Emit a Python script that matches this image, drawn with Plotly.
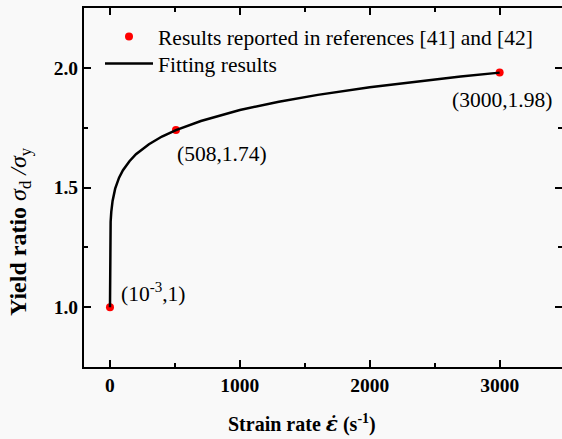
import plotly.graph_objects as go

# Reported yield ratios (strain rate in 1/s)
rate_points = [0.001, 508, 3000]
ratio_points = [1.0, 1.74, 1.98]
point_labels = ["(10<sup>-3</sup>,1)", "(508,1.74)", "(3000,1.98)"]

# Fitted curve sampled along strain rate
fit_rate = [0, 0.01, 0.1, 0.5, 2, 5, 10, 20, 40, 70, 100, 150, 200, 300, 400,
            508, 700, 1000, 1300, 1600, 2000, 2400, 2700, 3000]
fit_ratio = [1.0, 1.134, 1.192, 1.248, 1.309, 1.357, 1.398, 1.444, 1.495, 1.541,
             1.572, 1.610, 1.639, 1.681, 1.713, 1.74, 1.778, 1.824, 1.858, 1.887,
             1.919, 1.946, 1.964, 1.98]

x_range = [-200, 3480]
y_range = [0.75, 2.25]

FONT = "Liberation Serif, Times New Roman, serif"
BG = "#f9f9f9"

fig = go.Figure()
fig.add_trace(go.Scatter(
    x=rate_points, y=ratio_points, mode="markers",
    marker=dict(color="#ff0000", size=8),
    name="Results reported in references [41] and [42]",
    legend="legend",
))
fig.add_trace(go.Scatter(
    x=fit_rate, y=fit_ratio, mode="lines",
    line=dict(color="black", width=2.5),
    name="Fitting results",
    legend="legend2",
))
# invisible trace to carry the right-hand tick marks
fig.add_trace(go.Scatter(x=[None], y=[None], yaxis="y2", showlegend=False, hoverinfo="skip"))

# value labels next to the reported points
label_pos = [
    dict(x=rate_points[0], y=ratio_points[0], xanchor="left", yanchor="middle", xshift=9, yshift=15),
    dict(x=rate_points[1], y=ratio_points[1], xanchor="left", yanchor="middle", xshift=-1, yshift=-24),
    dict(x=rate_points[2], y=ratio_points[2], xanchor="center", yanchor="middle", xshift=2, yshift=-27),
]
for txt, pos in zip(point_labels, label_pos):
    fig.add_annotation(text=txt, showarrow=False, font=dict(family=FONT, size=21.5, color="black"), **pos)

# axis titles
fig.add_annotation(
    text="<b>Strain rate </b><b><i><span style=\"font-family:'DejaVu Serif'\">ε̇</span></i></b><b> (s<sup>-1</sup>)</b>",
    xref="paper", yref="paper", x=(302 - 84) / 478, y=-(423 - 367) / 359,
    showarrow=False, xanchor="center", yanchor="middle",
    font=dict(family=FONT, size=20, color="black"),
)
fig.add_annotation(
    text="<b>Yield ratio </b><i>σ</i><sub>d</sub><i> /σ</i><sub>y</sub>",
    xref="paper", yref="paper", x=-(84 - 20) / 478, y=1 - (232 - 8) / 359,
    showarrow=False, xanchor="center", yanchor="middle", textangle=-90,
    font=dict(family=FONT, size=24, color="black"),
)

tick_common = dict(
    ticks="inside", ticklen=7, tickwidth=2, tickcolor="black",
    showline=True, linecolor="black", linewidth=2,
    showgrid=False, zeroline=False,
    tickfont=dict(family=FONT, size=19.5, color="black", weight="bold"),
)

legend_common = dict(
    xanchor="left", yanchor="top", bgcolor="rgba(0,0,0,0)",
    font=dict(family=FONT, size=21.5, color="black"), itemwidth=48,
)

fig.update_layout(
    width=562, height=439,
    margin=dict(l=84, r=0, t=8, b=72),
    paper_bgcolor=BG, plot_bgcolor=BG,
    font=dict(family=FONT, size=19, color="black"),
    xaxis=dict(range=x_range, tickvals=[0, 1000, 2000, 3000], mirror="ticks",
               minor=dict(tickvals=[500, 1500, 2500], ticks="inside", ticklen=4,
                          tickwidth=2, tickcolor="black"),
               **tick_common),
    yaxis=dict(range=y_range, tickvals=[1.0, 1.5, 2.0], tickformat=".1f", mirror=False,
               minor=dict(tickvals=[1.25, 1.75], ticks="inside", ticklen=4,
                          tickwidth=2, tickcolor="black"),
               **tick_common),
    yaxis2=dict(range=y_range, overlaying="y", side="right", showline=False,
                showgrid=False, zeroline=False, showticklabels=False,
                ticks="inside", ticklen=7, tickwidth=2, tickcolor="black",
                tickvals=[1.0, 1.5, 2.0],
                minor=dict(tickvals=[1.25, 1.75], ticks="inside", ticklen=4,
                           tickwidth=2, tickcolor="black")),
    legend=dict(x=(100 - 84) / 478, y=1 - (16 - 8) / 359, **legend_common),
    legend2=dict(x=(100 - 84) / 478, y=1 - (43 - 8) / 359, **legend_common),
    showlegend=True,
)

fig.write_html("out.html")
